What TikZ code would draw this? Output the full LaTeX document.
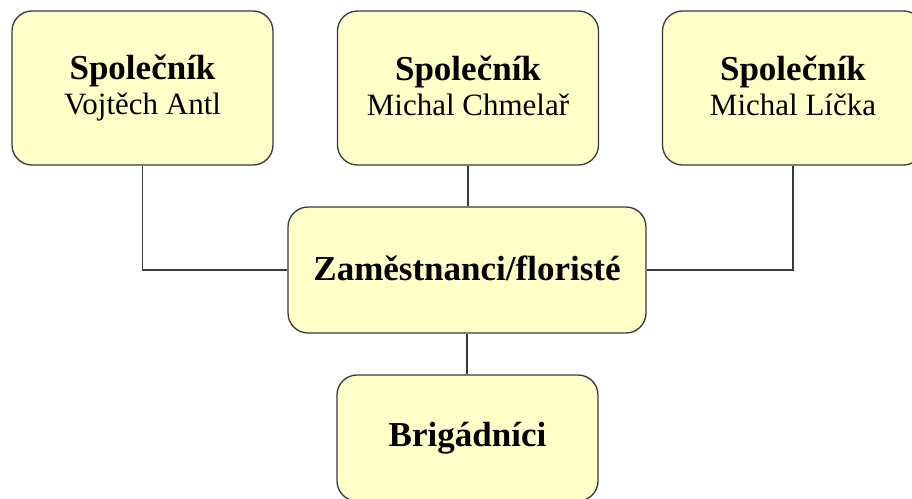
\documentclass[tikz,border=0pt]{standalone}
\usepackage{fontspec}
\setmainfont{Liberation Serif}
\definecolor{boxfill}{HTML}{FFFFC8}
\definecolor{boxline}{HTML}{36393D}
\newcommand{\tstrut}{\rule[-4pt]{0pt}{28pt}}
\newcommand{\bighead}[1]{{\fontsize{35}{35}\selectfont\bfseries\tstrut #1}}

\begin{document}
\begin{tikzpicture}[x=1pt,y=-1pt,
		box/.style={draw=boxline,fill=boxfill,line width=1.3pt,rounded corners=20pt,
			minimum width=261pt,minimum height=154pt,inner sep=0pt,align=center,
			font=\fontsize{31}{35}\selectfont},
		link/.style={draw=boxline,line width=1.2pt}]
				\useasboundingbox (0,0) rectangle (912,498);
				\clip (0,0) rectangle (912,498);
				% spolecnici
				\node[box] (antl) at (142.5,88) {\bighead{Společník}\\\tstrut Vojtěch Antl};
				\node[box] (chmelar) at (468,88) {\bighead{Společník}\\\tstrut Michal Chmelař};
				\node[box] (licka) at (793,88) {\bighead{Společník}\\\tstrut Michal Líčka};
				% zamestnanci a brigadnici
				\node[box,minimum width=358pt,minimum height=126pt] (flor) at (467,270) {\bighead{Zaměstnanci/floristé}};
				\node[box,minimum height=126pt] (brig) at (467.5,438) {\bighead{Brigádníci}};
				\draw[link] (antl.south) |- (flor.west);
				\draw[link] (licka.south) |- (flor.east);
				\draw[link] (chmelar.south) -- (chmelar.south |- flor.north);
				\draw[link] (flor.south) -- (flor.south |- brig.north);
			\end{tikzpicture}
\end{document}
